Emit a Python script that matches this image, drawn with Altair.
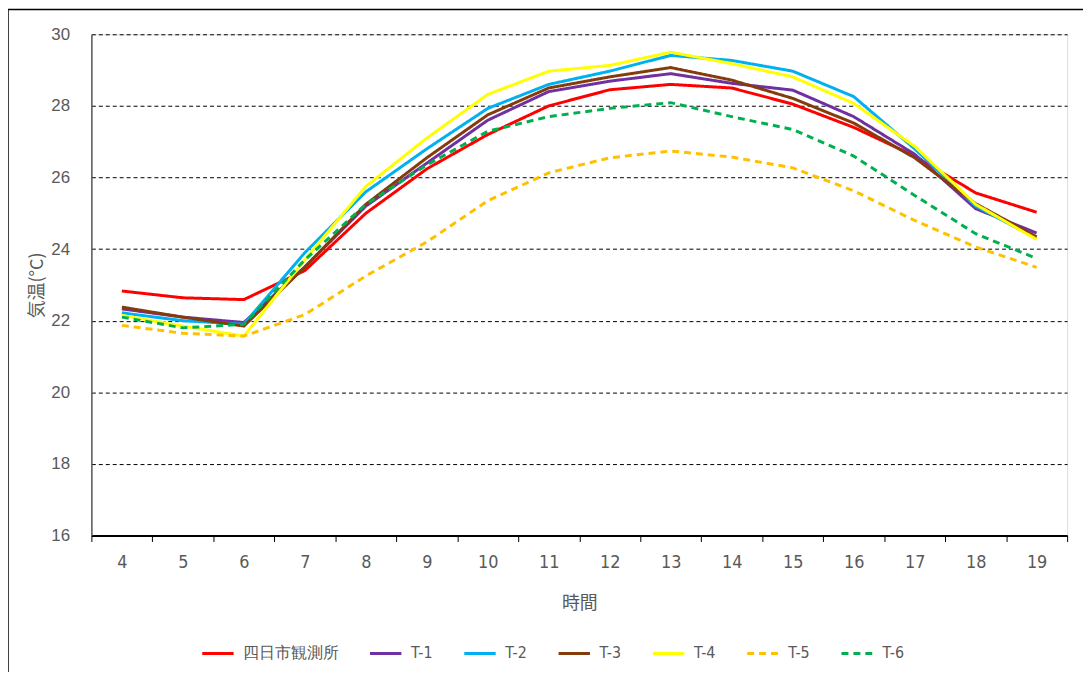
import altair as alt
import pandas as pd

hours = [4, 5, 6, 7, 8, 9, 10, 11, 12, 13, 14, 15, 16, 17, 18, 19]
series_names = ["四日市観測所", "T-1", "T-2", "T-3", "T-4", "T-5", "T-6"]
colors = ["#FF0000", "#7030A0", "#00B0F0", "#843C0C", "#FFFF00", "#FFC000", "#00B050"]

obs = [22.83, 22.64, 22.59, 23.4, 25.0, 26.24, 27.2, 28.0, 28.45, 28.6, 28.5, 28.05, 27.4, 26.6, 25.57, 25.03]
t1 = [22.33, 22.1, 21.95, 23.5, 25.2, 26.4, 27.6, 28.4, 28.69, 28.9, 28.63, 28.44, 27.7, 26.65, 25.13, 24.45]
t2 = [22.22, 22.0, 21.9, 23.9, 25.6, 26.8, 27.93, 28.6, 28.97, 29.41, 29.27, 28.97, 28.26, 26.8, 25.2, 24.3]
t3 = [22.38, 22.1, 21.85, 23.5, 25.25, 26.55, 27.75, 28.5, 28.81, 29.07, 28.72, 28.21, 27.52, 26.55, 25.27, 24.34]
t4 = [22.15, 21.85, 21.57, 23.7, 25.75, 27.1, 28.32, 28.97, 29.13, 29.5, 29.18, 28.81, 28.07, 26.87, 25.25, 24.27]
t5 = [21.87, 21.65, 21.57, 22.17, 23.25, 24.2, 25.35, 26.13, 26.55, 26.74, 26.57, 26.27, 25.63, 24.8, 24.06, 23.49]
t6 = [22.1, 21.8, 21.9, 23.7, 25.25, 26.35, 27.29, 27.7, 27.93, 28.09, 27.7, 27.34, 26.6, 25.5, 24.43, 23.74]
y_ticks = [16, 18, 20, 22, 24, 26, 28, 30]

all_series = [obs, t1, t2, t3, t4, t5, t6]
rows = []
for name, vals in zip(series_names, all_series):
    for h, v in zip(hours, vals):
        rows.append({"時間": h, "気温": v, "系列": name})
df = pd.DataFrame(rows)

dashes = [[1, 0]] * 5 + [[7, 5], [7, 5]]

W, H = 983, 505
NARROW = "'Liberation Sans Narrow', 'DejaVu Sans Condensed', 'Roboto Condensed', Roboto, sans-serif"
JP = "'Noto Sans CJK JP', sans-serif"

lines = alt.Chart(df).mark_line(strokeWidth=3).encode(
    x=alt.X("時間:O", sort=hours,
            scale=alt.Scale(paddingInner=0, paddingOuter=0),
            axis=alt.Axis(title="時間", labelAngle=0, tickBand="extent",
                          domainColor="#000000", domainWidth=2,
                          tickColor="#000000", tickSize=6, tickWidth=1,
                          labelFont=NARROW, labelFontSize=18,
                          labelColor="#595959", labelPadding=12,
                          titleFont=JP, titleFontSize=18,
                          titleFontWeight="normal", titleColor="#595959",
                          titlePadding=24, grid=False)),
    y=alt.Y("気温:Q",
            scale=alt.Scale(domain=[16, 30], nice=False, zero=False),
            axis=alt.Axis(title="気温(°C)", values=y_ticks, ticks=False,
                          domainColor="#595959", domainWidth=1.5,
                          grid=True, gridColor="#000000", gridDash=[4, 3],
                          gridWidth=1,
                          labelFont="'Liberation Sans', Arial, sans-serif",
                          labelFontSize=17,
                          labelColor="#595959", labelPadding=22,
                          titleFont=JP, titleFontSize=18,
                          titleFontWeight="normal", titleColor="#595959",
                          titlePadding=4)),
    color=alt.Color("系列:N",
                    scale=alt.Scale(domain=series_names, range=colors),
                    legend=alt.Legend(title=None, orient="none",
                                      direction="horizontal",
                                      legendX=110, legendY=606,
                                      symbolType="stroke", symbolSize=1000,
                                      symbolStrokeWidth=3,
                                      labelFont=NARROW,
                                      labelFontSize=16, labelColor="#595959",
                                      columnPadding=25, labelOffset=8)),
    strokeDash=alt.StrokeDash("系列:N",
                              scale=alt.Scale(domain=series_names, range=dashes),
                              legend=None),
    detail="系列:N",
)

frame = alt.Chart(pd.DataFrame({"a": [0]})).mark_rect(
    fill=None, stroke="#000000", strokeWidth=1.5
).encode(
    x=alt.value(-84), x2=alt.value(W + 60),
    y=alt.value(-25), y2=alt.value(H + 200),
)

chart = alt.layer(frame, lines).properties(
    width=W, height=H,
    autosize=alt.AutoSizeParams(type="none"),
    padding={"left": 84, "top": 24, "right": 16, "bottom": 135},
).configure_view(stroke="#000000", strokeWidth=1).configure(background="#ffffff")

chart.save("out.html", embed_options={"renderer": "svg", "actions": False})
